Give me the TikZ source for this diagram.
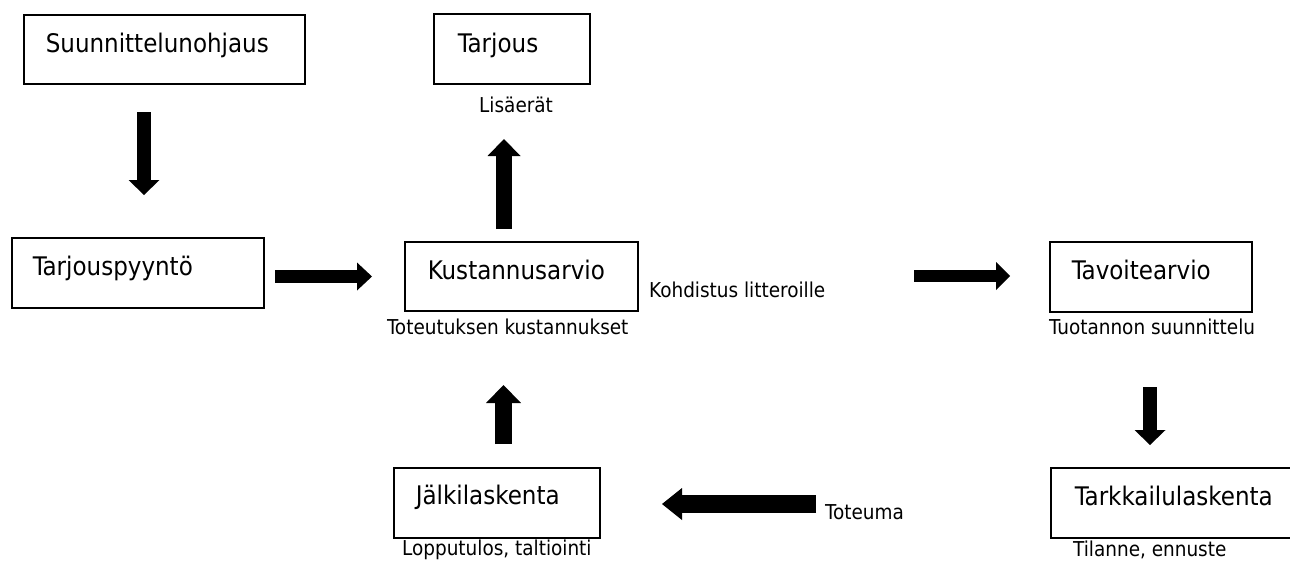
\documentclass[tikz,border=0pt]{standalone}
\usepackage{fontspec}
\setmainfont{DejaVu Sans Condensed}
\usetikzlibrary{arrows.meta}
\tikzset{
  box/.style={draw, line width=1.6pt, anchor=north west, inner ysep=0pt, align=left,
    font=\fontsize{25.6}{30}\selectfont},
  lbl/.style={anchor=base west, inner sep=0pt, font=\fontsize{20.5}{24}\selectfont},
  blockarrow/.style n args={3}{line width=#1, line cap=butt,
    -{Triangle[length=#2, width=#3, line width=0pt]}},
}
\begin{document}
\begin{tikzpicture}[x=1pt,y=-1pt]
\useasboundingbox (0,0) rectangle (1290,560);
\clip (0,0) rectangle (1290,560);

% boxes
\node[box, text width=237pt, inner xsep=22pt, text height=38pt, text depth=31pt] (sunn) at (23,14) {Suunnittelunohjaus};
\node[box, text width=108pt, inner xsep=24pt, text height=39pt, text depth=31pt] (tarj) at (433,13) {Tarjous};
\node[box, text width=210pt, inner xsep=21pt, text height=38pt, text depth=32pt] (tarjp) at (11,237) {Tarjouspyyntö};
\node[box, text width=187pt, inner xsep=23pt, text height=38pt, text depth=31pt] (kust) at (404,241) {Kustannusarvio};
\node[box, text width=158pt, inner xsep=22pt, text height=38pt, text depth=32pt] (tavo) at (1049,241) {Tavoitearvio};
\node[box, text width=212pt, inner xsep=24pt, text height=38pt, text depth=32pt] (tark) at (1050,467) {Tarkkailulaskenta};
\node[box, text width=162pt, inner xsep=22pt, text height=37pt, text depth=33pt] (jalk) at (393,467) {Jälkilaskenta};

% labels
\node[lbl] (lis) at (479,112) {Lisäerät};
\node[lbl] (tot) at (387,334) {Toteutuksen kustannukset};
\node[lbl] (koh) at (649,297) {Kohdistus litteroille};
\node[lbl] (tuo) at (1049,334) {Tuotannon suunnittelu};
\node[lbl] (lop) at (402,555) {Lopputulos, taltiointi};
\node[lbl] (til) at (1073,556) {Tilanne, ennuste};
\node[lbl] (tote) at (825,519) {Toteuma};

% arrow end points
\coordinate (a1s) at (144,112);   \coordinate (a1e) at (144,195);
\coordinate (a2s) at (275,276.5); \coordinate (a2e) at (372,276.5);
\coordinate (a3s) at (504,229);   \coordinate (a3e) at (504,139);
\coordinate (a4s) at (914,276);   \coordinate (a4e) at (1010,276);
\coordinate (a5s) at (1150,387);  \coordinate (a5e) at (1150,445);
\coordinate (a6s) at (816,504);   \coordinate (a6e) at (662,504);
\coordinate (a7s) at (503.5,444); \coordinate (a7e) at (503.5,385);

% block arrows
\draw[blockarrow={14pt}{15pt}{31pt}] (a1s) -- (a1e);
\draw[blockarrow={13pt}{15pt}{28pt}] (a2s) -- (a2e);
\draw[blockarrow={16pt}{17pt}{33pt}] (a3s) -- (a3e);
\draw[blockarrow={12pt}{14pt}{28pt}] (a4s) -- (a4e);
\draw[blockarrow={14pt}{15pt}{31pt}] (a5s) -- (a5e);
\draw[blockarrow={18pt}{20pt}{32pt}, line join=round] (a6s) -- (a6e);
\draw[blockarrow={17pt}{18pt}{35pt}] (a7s) -- (a7e);
\end{tikzpicture}
\end{document}
